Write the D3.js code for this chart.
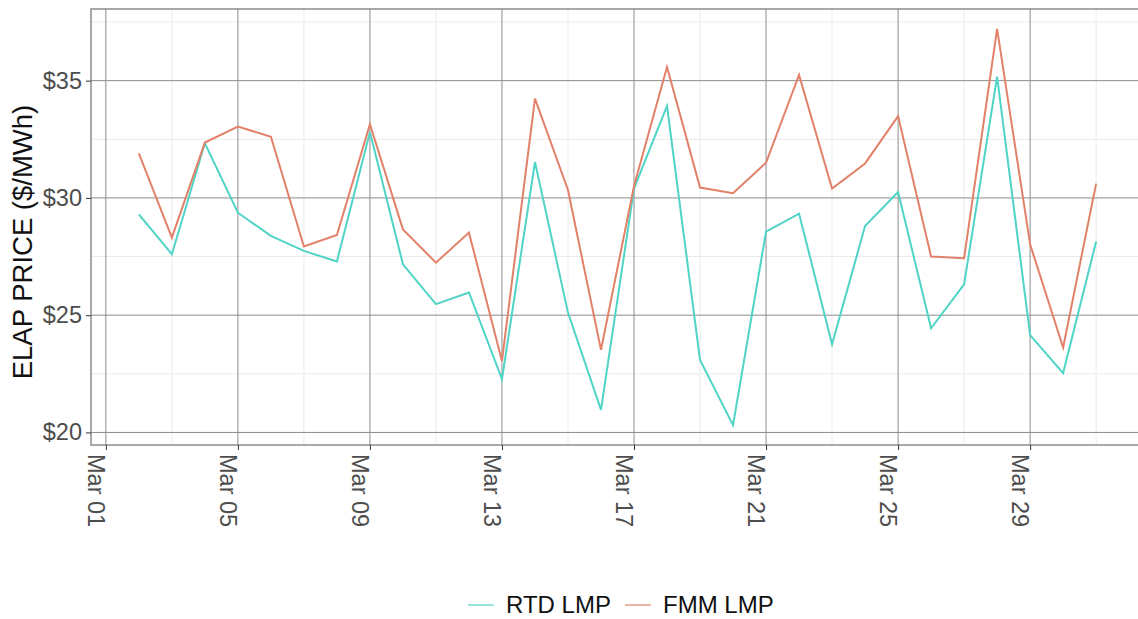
<!DOCTYPE html>
<html>
<head>
<meta charset="utf-8">
<script src="https://cdn.jsdelivr.net/npm/d3@7"></script>
<style>
  body { margin: 0; background: #fff; }
  svg { display: block; font-family: "Liberation Sans", Arial, sans-serif; }
</style>
</head>
<body>
<svg id="chart"></svg>
<script>
// days of March with a value
const days = [2, 3, 4, 5, 6, 7, 8, 9, 10, 11, 12, 13, 14, 15, 16, 17, 18, 19, 20, 21, 22, 23, 24, 25, 26, 27, 28, 29, 30, 31]

const rtdLmp = [29.30, 27.60, 32.33, 29.37, 28.38, 27.74, 27.29, 32.81, 27.17, 25.47,
                25.97, 22.27, 31.53, 25.11, 20.96, 30.40, 33.92, 23.09, 20.31, 28.56,
                29.33, 23.76, 28.80, 30.25, 24.44, 26.32, 35.17, 24.15, 22.53, 28.14]

const fmmLmp = [31.90, 28.31, 32.36, 33.04, 32.61, 27.93, 28.42, 33.14, 28.66, 27.24,
                28.52, 23.05, 34.23, 30.34, 23.52, 30.51, 35.58, 30.44, 30.20, 31.50,
                35.24, 30.40, 31.47, 33.49, 27.50, 27.43, 37.21, 28.02, 23.62, 30.61]

const seriesNames = ["RTD LMP", "FMM LMP"]
const seriesColors = ["#4fd4c6", "#e2816a"]

const majorDays = [1, 5, 9, 13, 17, 21, 25, 29]
const minorDays = [3, 7, 11, 15, 19, 23, 27, 31]
const majorPrices = [20, 25, 30, 35]
const minorPrices = [22.5, 27.5, 32.5, 37.5]

const yTitle = "ELAP PRICE ($/MWh)"

const width = 1138
const height = 619
const pLeft = 91, pTop = 9, pRight = 1144, pBottom = 445

const day = (d) => new Date(2023, 2, d)

const series = [rtdLmp, fmmLmp].map((vals, i) => ({
    name: seriesNames[i],
    color: seriesColors[i],
    values: vals.map((v, j) => ({ date: day(days[j]), value: v }))
}))

// ggplot style 5% expansion
const x0 = day(days[0]), x1 = day(days[days.length - 1])
const xPad = (x1 - x0) * 0.05
const xScale = d3.scaleTime()
    .domain([new Date(+x0 - xPad), new Date(+x1 + xPad)])
    .range([pLeft, pRight])

const allVals = rtdLmp.concat(fmmLmp)
const yMin = d3.min(allVals), yMax = d3.max(allVals)
const yPad = (yMax - yMin) * 0.05
const yScale = d3.scaleLinear()
    .domain([yMin - yPad, yMax + yPad])
    .range([pBottom, pTop])

const svg = d3.select('#chart')
    .attr('width', width)
    .attr('height', height)

// minor grid
svg.append('g')
    .selectAll('line')
    .data(minorDays)
    .join('line')
    .attr('x1', (d) => xScale(day(d))).attr('x2', (d) => xScale(day(d)))
    .attr('y1', pTop).attr('y2', pBottom)
    .attr('stroke', '#ebebeb').attr('stroke-width', 1)

svg.append('g')
    .selectAll('line')
    .data(minorPrices)
    .join('line')
    .attr('x1', pLeft).attr('x2', pRight)
    .attr('y1', (d) => yScale(d)).attr('y2', (d) => yScale(d))
    .attr('stroke', '#ebebeb').attr('stroke-width', 1)

// major grid
svg.append('g')
    .selectAll('line')
    .data(majorDays)
    .join('line')
    .attr('x1', (d) => xScale(day(d))).attr('x2', (d) => xScale(day(d)))
    .attr('y1', pTop).attr('y2', pBottom)
    .attr('stroke', '#8c8c8c').attr('stroke-width', 1)

svg.append('g')
    .selectAll('line')
    .data(majorPrices)
    .join('line')
    .attr('x1', pLeft).attr('x2', pRight)
    .attr('y1', (d) => yScale(d)).attr('y2', (d) => yScale(d))
    .attr('stroke', '#8c8c8c').attr('stroke-width', 1)

// lines
const line = d3.line()
    .x((d) => xScale(d.date))
    .y((d) => yScale(d.value))

svg.append('g')
    .selectAll('path')
    .data(series)
    .join('path')
    .attr('d', (s) => line(s.values))
    .attr('fill', 'none')
    .attr('stroke', (s) => s.color)
    .attr('stroke-width', 2)

// panel border
svg.append('rect')
    .attr('x', pLeft).attr('y', pTop)
    .attr('width', pRight - pLeft).attr('height', pBottom - pTop)
    .attr('fill', 'none')
    .attr('stroke', '#7a7a7a')
    .attr('stroke-width', 1.3)

// axes
const xAxis = d3.axisBottom(xScale)
    .tickValues(majorDays.map(day))
    .tickFormat(d3.timeFormat('%b %d'))
    .tickSize(5)
    .tickPadding(4)

const gx = svg.append('g')
    .attr('transform', `translate(0, ${pBottom})`)
    .call(xAxis)
gx.select('.domain').remove()
gx.selectAll('.tick line').attr('stroke', '#333')
gx.selectAll('.tick text')
    .attr('fill', '#4d4d4d')
    .attr('font-size', 23.5)
    .attr('transform', 'rotate(90)')
    .attr('x', 9)
    .attr('y', 0)
    .attr('dy', '0.78em')
    .attr('text-anchor', 'start')

const yAxis = d3.axisLeft(yScale)
    .tickValues(majorPrices)
    .tickFormat((d) => '$' + d)
    .tickSize(5)
    .tickPadding(4)

const gy = svg.append('g')
    .attr('transform', `translate(${pLeft}, 0)`)
    .call(yAxis)
gy.select('.domain').remove()
gy.selectAll('.tick line').attr('stroke', '#333')
gy.selectAll('.tick text')
    .attr('fill', '#4d4d4d')
    .attr('font-size', 23.5)

svg.append('text')
    .attr('transform', `translate(32, 242) rotate(-90)`)
    .attr('text-anchor', 'middle')
    .attr('font-size', 27.5)
    .attr('fill', '#111')
    .text(yTitle)

// legend
const legend = svg.append('g')
    .attr('transform', 'translate(468, 605)')

const items = legend.selectAll('g')
    .data(series)
    .join('g')
    .attr('transform', (s, i) => `translate(${i * 157}, 0)`)

items.append('line')
    .attr('x1', 0).attr('x2', 26)
    .attr('stroke', (s) => s.color)
    .attr('stroke-width', 2)
    .attr('opacity', 0.6)

items.append('text')
    .attr('x', 38)
    .attr('dy', '0.35em')
    .attr('font-size', 24)
    .attr('fill', '#111')
    .text((s) => s.name)
</script>
</body>
</html>
